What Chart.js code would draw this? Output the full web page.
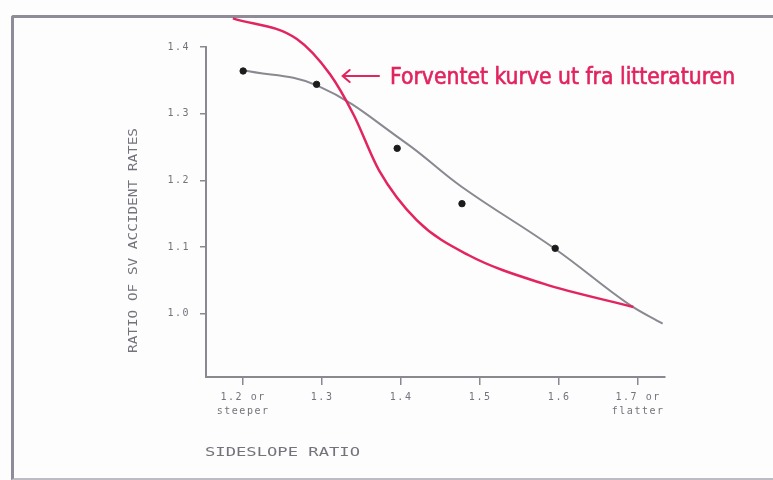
<!DOCTYPE html>
<html>
<head>
<meta charset="utf-8">
<script src="https://cdn.jsdelivr.net/npm/chart.js@4.4.1/dist/chart.umd.min.js"></script>
<style>
  html, body { margin: 0; padding: 0; background: #fff; }
  #wrap { position: relative; width: 773px; height: 480px; overflow: hidden; background: #fdfdfd; }
  #frame { position: absolute; left: 11px; top: 15px; width: 800px; height: 460px;
           border-left: 3px solid #8e8c98; border-top: 3px solid #8e8c98; border-bottom: 2px solid #bdbbc4;
           border-top-left-radius: 3px; }
  canvas { position: absolute; left: 0; top: 0; }
</style>
</head>
<body>
<div id="wrap"><div id="frame"></div><canvas id="myChart" width="773" height="480"></canvas></div>
<script>
// observed points
const sideslope = [1.2, 1.293, 1.395, 1.477, 1.595];
const svRatio = [1.364, 1.344, 1.248, 1.165, 1.098];

// grey fitted curve
const fitX = [1.2, 1.294, 1.405, 1.477, 1.595, 1.687, 1.731];
const fitY = [1.365, 1.342, 1.257, 1.190, 1.097, 1.015, 0.985];

// red "expected" curve
const expX = [1.187, 1.268, 1.310, 1.340, 1.372, 1.420, 1.485, 1.580, 1.694];
const expY = [1.443, 1.412, 1.359, 1.298, 1.215, 1.140, 1.088, 1.045, 1.010];

const xTicks = [1.2, 1.3, 1.4, 1.5, 1.6, 1.7];
const xTickLabels = [['1.2 or', 'steeper'], '1.3', '1.4', '1.5', '1.6', ['1.7 or', 'flatter']];
const yTicks = [1.0, 1.1, 1.2, 1.3, 1.4];
const yTickLabels = ['1.0', '1.1', '1.2', '1.3', '1.4'];

const noteText = 'Forventet kurve ut fra litteraturen';
const xTitle = 'SIDESLOPE RATIO';
const yTitle = 'RATIO OF SV ACCIDENT RATES';

const toPts = (xs, ys) => xs.map((v, i) => ({ x: v, y: ys[i] }));

const red = '#e2245f';
const grey = '#8a8890';
const textGrey = '#74737c';

const notePlugin = {
    id: 'note',
    beforeDraw(chart) {
        chart.ctx.letterSpacing = '1.5px';
    },
    afterDraw(chart) {
        const ctx = chart.ctx;
        const x = chart.scales.x, y = chart.scales.y;
        ctx.save();
        ctx.letterSpacing = '0px';

        // arrow
        const ax = x.getPixelForValue(1.326), ay = y.getPixelForValue(1.3565);
        const bx = x.getPixelForValue(1.372);
        ctx.strokeStyle = red;
        ctx.lineWidth = 2;
        ctx.lineCap = 'round';
        ctx.beginPath();
        ctx.moveTo(bx, ay); ctx.lineTo(ax, ay);
        ctx.moveTo(ax + 7, ay - 6); ctx.lineTo(ax, ay); ctx.lineTo(ax + 7, ay + 6);
        ctx.stroke();

        // note text, squeezed to the width seen in the picture
        const tx = x.getPixelForValue(1.386);
        ctx.fillStyle = red;
        ctx.strokeStyle = red;
        ctx.lineWidth = 0.6;
        ctx.font = '23px "DejaVu Sans Condensed", "DejaVu Sans", sans-serif';
        ctx.textBaseline = 'alphabetic';
        let w = ctx.measureText(noteText).width;
        ctx.save();
        ctx.translate(tx, ay + 8);
        ctx.scale(345 / w, 1);
        ctx.fillText(noteText, 0, 0);
        ctx.strokeText(noteText, 0, 0);
        ctx.restore();

        // axis titles
        ctx.fillStyle = textGrey;
        ctx.font = '12px "DejaVu Sans Mono", monospace';
        ctx.textBaseline = 'middle';
        w = ctx.measureText(yTitle).width;
        ctx.save();
        ctx.translate(134, 240.5);
        ctx.rotate(-Math.PI / 2);
        ctx.scale(225 / w, 1);
        ctx.textAlign = 'center';
        ctx.fillText(yTitle, 0, 0);
        ctx.restore();

        w = ctx.measureText(xTitle).width;
        ctx.save();
        ctx.translate(x.left - 1, 453);
        ctx.scale(155 / w, 1);
        ctx.textAlign = 'left';
        ctx.fillText(xTitle, 0, 0);
        ctx.restore();

        ctx.restore();
    }
};

const config = {
    type: 'scatter',
    data: {
        datasets: [
            {
                label: 'Forventet',
                data: toPts(expX, expY),
                showLine: true,
                borderColor: red,
                borderWidth: 2.5,
                pointRadius: 0,
                cubicInterpolationMode: 'monotone',
                clip: false,
                order: 2
            },
            {
                label: 'Fit',
                data: toPts(fitX, fitY),
                showLine: true,
                borderColor: grey,
                borderWidth: 2,
                pointRadius: 0,
                tension: 0.4,
                order: 3
            },
            {
                label: 'Observed',
                data: toPts(sideslope, svRatio),
                showLine: false,
                pointRadius: 3.2,
                backgroundColor: '#1c1c1c',
                borderColor: '#1c1c1c',
                order: 1
            }
        ]
    },
    options: {
        responsive: false,
        animation: false,
        layout: { padding: { top: 47, right: 108, left: 0, bottom: 0 } },
        plugins: {
            legend: { display: false },
            tooltip: { enabled: false }
        },
        scales: {
            x: {
                type: 'linear',
                min: 1.153,
                max: 1.734,
                afterBuildTicks: s => { s.ticks = xTicks.map(v => ({ value: v })); },
                afterFit: s => { s.height = 103; },
                ticks: {
                    callback: (v, i) => xTickLabels[i],
                    color: textGrey,
                    font: { family: 'DejaVu Sans Mono', size: 10, lineHeight: 1.4 },
                    padding: 5,
                    maxRotation: 0,
                    autoSkip: false
                },
                grid: { display: true, drawOnChartArea: false, drawTicks: true, tickLength: 8, color: grey, lineWidth: 1.5 },
                border: { display: true, color: grey, width: 2 }
            },
            y: {
                type: 'linear',
                min: 0.905,
                max: 1.4,
                afterBuildTicks: s => { s.ticks = yTicks.map(v => ({ value: v })); },
                afterFit: s => { s.width = 206; },
                ticks: {
                    callback: (v, i) => yTickLabels[i],
                    color: textGrey,
                    font: { family: 'DejaVu Sans Mono', size: 10 },
                    padding: 10
                },
                grid: { display: true, drawOnChartArea: false, drawTicks: true, tickLength: 6, color: grey, lineWidth: 1.5 },
                border: { display: true, color: grey, width: 2 }
            }
        }
    },
    plugins: [notePlugin]
};

const myChart = new Chart(document.getElementById('myChart'), config);
</script>
</body>
</html>
